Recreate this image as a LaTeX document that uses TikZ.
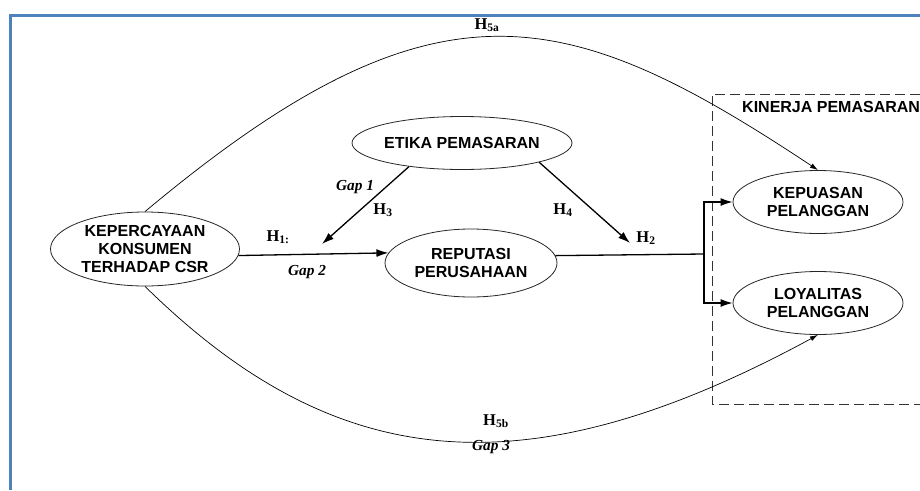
\documentclass[tikz,border=0pt]{standalone}
\usepackage{fontspec}
\setmainfont{Liberation Serif}
\newfontfamily\constructfont{Liberation Sans}
\usetikzlibrary{shapes.geometric,arrows.meta}
\definecolor{framebl}{RGB}{79,129,189}
\begin{document}
\begin{tikzpicture}[x=1pt,y=-1pt,
  construct/.style={draw=black!85, line width=0.8pt, ellipse, inner sep=0pt, align=center,
    font=\constructfont\bfseries\fontsize{16}{17.8}\selectfont},
  mainarrow/.style={line width=1.3pt, -{Latex[length=12pt,width=8pt]}},
  arcarrow/.style={line width=0.7pt, -{Latex[length=8pt,width=5pt]}},
  hyp/.style={font=\bfseries\fontsize{16.5}{18}\selectfont, inner sep=0pt},
  gaplab/.style={font=\bfseries\itshape\fontsize{15.3}{17}\selectfont, inner sep=0pt},
  groupbox/.style={dash pattern=on 10pt off 5pt, line width=0.9pt, black!80},
]
\useasboundingbox (0,0) rectangle (920,490);

% outer frame (top and left edges)
\draw[framebl, line width=2.7pt] (10.7,490) -- (10.7,15.3) -- (920,15.3);

% constructs
\node[construct, minimum width=189pt, minimum height=74pt] (kep) at (145,249)
  {KEPERCAYAAN\\KONSUMEN\\TERHADAP CSR};
\node[construct, minimum width=172pt, minimum height=53pt] (etika) at (462,143)
  {ETIKA PEMASARAN};
\node[construct, minimum width=172pt, minimum height=68pt] (rep) at (471,263)
  {REPUTASI\\PERUSAHAAN};
\node[construct, minimum width=170pt, minimum height=63pt] (kepuasan) at (818,202)
  {KEPUASAN\\PELANGGAN};
\node[construct, minimum width=170pt, minimum height=63pt] (loyal) at (818,303)
  {LOYALITAS\\PELANGGAN};

% marketing performance group
\draw[groupbox] (920,94) -- (712,94) -- (712,404) -- (920,404);
\node[anchor=west, inner sep=0pt, font=\constructfont\bfseries\fontsize{16}{18}\selectfont]
  (kinerja) at (742,107) {KINERJA PEMASARAN};

% direct paths
\draw[mainarrow] (kep.-4) -- (rep.173);
\coordinate (h3end) at (322,244);
\coordinate (h4end) at (630,243);
\draw[mainarrow] (etika.204) -- (h3end);
\draw[mainarrow] (etika.-14.5) -- (h4end);

% split toward the two outcomes
\coordinate (junc) at (704,254);
\draw[line width=1.3pt] (rep.5.5) -- (junc);
\draw[mainarrow] (junc) |- (kepuasan.west);
\draw[mainarrow] (junc) |- (loyal.west);

% long arcs
\draw[arcarrow] (kep.north) .. controls (436,-32) and (566,3) .. (kepuasan.north);
\draw[arcarrow] (kep.south) .. controls (333,471) and (521,496) .. (loyal.south);

% hypothesis and gap labels
\node[hyp] (h5a) at (487,25) {H\textsubscript{5a}};
\node[gaplab] (gap1) at (355,187) {Gap 1};
\node[hyp] (h3) at (383,210) {H\textsubscript{3}};
\node[hyp] (h1) at (278,237) {H\textsubscript{1:}};
\node[gaplab] (gap2) at (307,272) {Gap 2};
\node[hyp] (h4) at (563,210) {H\textsubscript{4}};
\node[hyp] (h2) at (646,238) {H\textsubscript{2}};
\node[hyp] (h5b) at (496,421) {H\textsubscript{5b}};
\node[gaplab] (gap3) at (491,447) {Gap 3};
\end{tikzpicture}
\end{document}
